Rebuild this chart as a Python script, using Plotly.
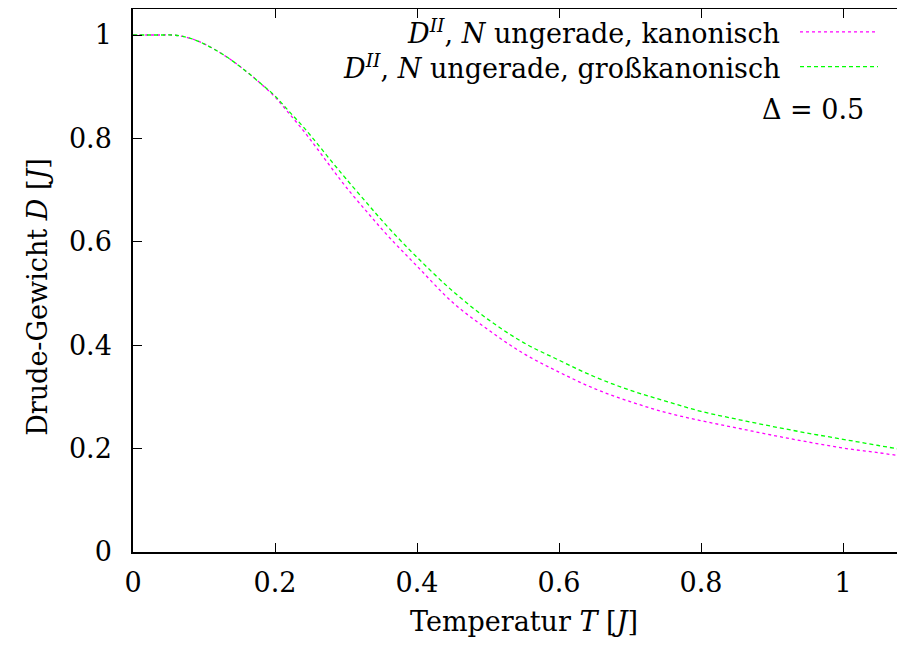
import plotly.graph_objects as go

# Temperatur T [J]
T = [0.0, 0.02, 0.04, 0.06, 0.08, 0.10, 0.12, 0.14, 0.16, 0.18, 0.20, 0.22, 0.24,
     0.26, 0.28, 0.30, 0.33, 0.36, 0.40, 0.45, 0.50, 0.55, 0.60, 0.65, 0.70, 0.75,
     0.80, 0.85, 0.90, 0.95, 1.00, 1.05, 1.10]

# D^II, N ungerade, kanonisch
D_kanonisch = [1.0, 1.0, 1.0, 0.9995, 0.994, 0.983, 0.968, 0.950, 0.929, 0.906, 0.880,
               0.848, 0.815, 0.779, 0.742, 0.706, 0.657, 0.610, 0.553, 0.483, 0.430,
               0.384, 0.348, 0.316, 0.291, 0.270, 0.254, 0.240, 0.226, 0.213, 0.201,
               0.192, 0.182]

# D^II, N ungerade, großkanonisch
D_grosskanonisch = [1.0, 1.0, 1.0, 0.9995, 0.994, 0.983, 0.968, 0.950, 0.929, 0.906, 0.882,
                    0.852, 0.822, 0.789, 0.755, 0.722, 0.674, 0.627, 0.570, 0.505, 0.450,
                    0.405, 0.371, 0.339, 0.313, 0.292, 0.272, 0.257, 0.243, 0.230, 0.218,
                    0.206, 0.194]

x_ticks = [0, 0.2, 0.4, 0.6, 0.8, 1]
x_ticklabels = ["0", "0.2", "0.4", "0.6", "0.8", "1"]
y_ticks = [0, 0.2, 0.4, 0.6, 0.8, 1]
y_ticklabels = ["0", "0.2", "0.4", "0.6", "0.8", "1"]

labels = ["<i>D<sup>II</sup></i>, <i>N</i> ungerade, kanonisch",
          "<i>D<sup>II</sup></i>, <i>N</i> ungerade, großkanonisch"]
colors = ["#ff00ff", "#00ff00"]
dashes = ["dot", "4px,3px"]

FONT = "DejaVu Serif"
FS = 27

fig = go.Figure()
fig.add_trace(go.Scatter(x=T, y=D_kanonisch, mode="lines", name=labels[0],
                         line=dict(color=colors[0], width=1.3, dash=dashes[0], shape="spline")))
fig.add_trace(go.Scatter(x=T, y=D_grosskanonisch, mode="lines", name=labels[1],
                         line=dict(color=colors[1], width=1.3, dash=dashes[1], shape="spline")))

# page body has an 8px margin, so the figure is sized to end at the window edge
fig.update_layout(
    width=897, height=638,
    margin=dict(l=125, r=0, t=1, b=94),
    paper_bgcolor="white", plot_bgcolor="white",
    showlegend=False,
    font=dict(family=FONT, size=FS, color="black"),
)
fig.update_xaxes(
    range=[0, 1.0873], tickvals=x_ticks, ticktext=x_ticklabels,
    ticks="inside", ticklen=9, tickwidth=1.2, tickcolor="black",
    showline=True, linecolor="black", linewidth=1.5, mirror="ticks",
    showgrid=False, zeroline=False, ticklabelstandoff=6,
    tickfont=dict(family=FONT, size=FS),
)
fig.update_yaxes(
    range=[0, 1.0503], tickvals=y_ticks, ticktext=y_ticklabels,
    ticks="inside", ticklen=9, tickwidth=1.2, tickcolor="black",
    showline=True, linecolor="black", linewidth=1.5, mirror=False,
    showgrid=False, zeroline=False, ticklabelstandoff=14,
    tickfont=dict(family=FONT, size=FS),
)

# axis titles
fig.add_annotation(x=0.5065, y=-0.128, xref="paper", yref="paper",
                   text="Temperatur <i>T</i> [<i>J</i>]", showarrow=False,
                   xanchor="center", yanchor="middle", font=dict(family=FONT, size=FS))
fig.add_annotation(x=-0.123, y=0.47, xref="paper", yref="paper",
                   text="Drude-Gewicht <i>D</i> [<i>J</i>]", showarrow=False, textangle=-90,
                   xanchor="center", yanchor="middle", font=dict(family=FONT, size=FS))

# legend (gnuplot style: text right-aligned, sample on the right)
leg_y = [0.958, 0.894]
for lab, col, dsh, yy in zip(labels, colors, dashes, leg_y):
    fig.add_annotation(x=0.8407, y=yy, xref="paper", yref="paper", text=lab,
                       showarrow=False, xanchor="right", yanchor="middle",
                       font=dict(family=FONT, size=FS))
    fig.add_shape(type="line", xref="paper", yref="paper", x0=0.864, x1=0.965,
                  y0=yy, y1=yy, line=dict(color=col, width=1.3, dash=dsh))

fig.add_annotation(x=0.949, y=0.814, xref="paper", yref="paper", text="Δ = 0.5",
                   showarrow=False, xanchor="right", yanchor="middle",
                   font=dict(family=FONT, size=FS))

fig.write_html("out.html")
